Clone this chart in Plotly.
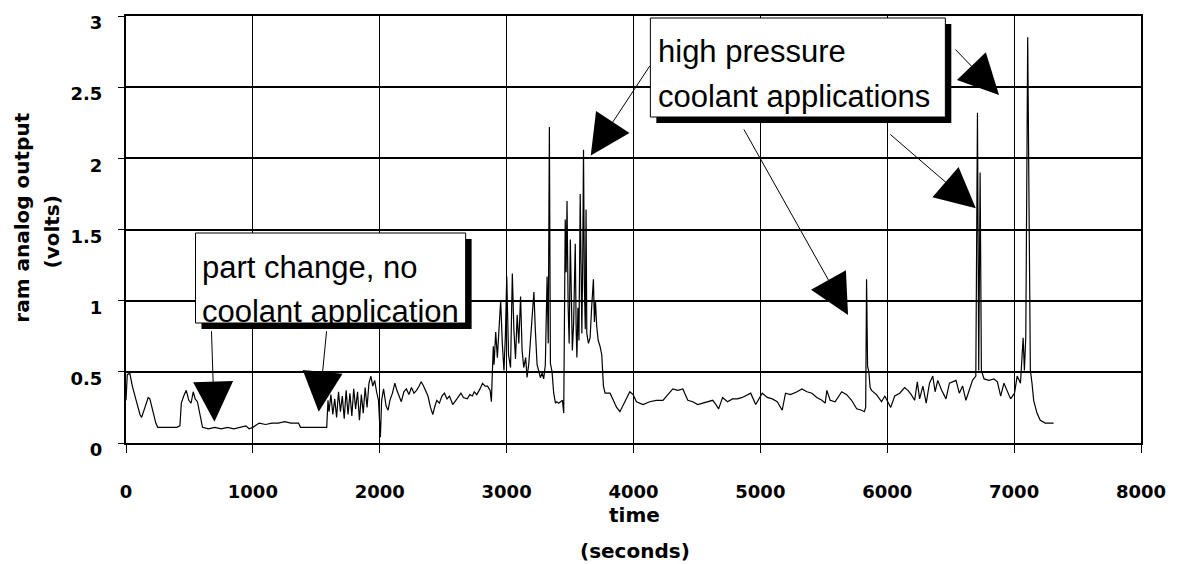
import plotly.graph_objects as go

# ---------------- data ----------------
time_s = [
    0, 10, 30, 50, 80, 110, 123, 150, 175, 188, 210, 235, 250, 300, 350, 400, 425,
    436, 455, 475, 495, 513, 530, 545, 563, 580, 603, 650, 700, 750, 800, 850, 900,
    945, 970, 1000, 1050, 1100, 1150, 1200, 1250, 1300, 1360, 1375, 1450, 1520, 1582,
    1592, 1600, 1615, 1630, 1645, 1660, 1675, 1690, 1705, 1720, 1735, 1750, 1765, 1780,
    1795, 1810, 1825, 1840, 1855, 1870, 1885, 1900, 1915, 1930, 1945, 1960, 1975, 1990,
    2005, 2015, 2030, 2050, 2066, 2080, 2100, 2119, 2135, 2150, 2170, 2190, 2210, 2230,
    2250, 2270, 2290, 2310, 2327, 2345, 2360, 2380, 2400, 2418, 2435, 2450, 2470, 2490,
    2510, 2530, 2550, 2575, 2600, 2620, 2640, 2660, 2690, 2710, 2730, 2745, 2765, 2790,
    2810, 2830, 2850, 2870, 2880,
    2888, 2895, 2901, 2914, 2927, 2940, 2953, 2966, 2979, 2990, 3001, 3015, 3031, 3045,
    3057, 3070, 3083, 3096, 3110, 3122, 3135, 3150, 3161, 3175, 3187, 3200, 3215, 3226,
    3240, 3255, 3266, 3280, 3292, 3305, 3319, 3328, 3337, 3345, 3358, 3371, 3385, 3395,
    3410, 3425, 3440, 3450, 3456, 3462, 3469, 3476, 3485, 3493, 3502, 3510, 3518, 3528,
    3535, 3541, 3548, 3554, 3562, 3570, 3580, 3587, 3593, 3600, 3606, 3613, 3620, 3626,
    3632, 3645, 3658, 3670, 3684, 3692, 3700, 3710, 3722, 3736, 3750, 3763, 3776, 3789,
    3815, 3841, 3867, 3893, 3932, 3971, 3997, 4023, 4075, 4128, 4180, 4232, 4271, 4310,
    4349, 4389, 4428, 4467, 4506, 4545, 4584, 4624, 4650, 4671, 4702, 4741, 4780, 4819,
    4858, 4898, 4924, 4963, 4989, 5015, 5054, 5094, 5133, 5172, 5198, 5237, 5289, 5328,
    5367, 5406, 5445, 5485, 5511, 5524, 5550, 5589, 5641, 5680, 5719, 5759, 5798, 5819,
    5830, 5837, 5845, 5855, 5865,
    5876, 5915, 5955, 5981, 6007, 6027, 6059, 6098, 6137, 6163, 6189, 6216, 6237, 6255,
    6281, 6307, 6333, 6359, 6377, 6398, 6429, 6463, 6490, 6516, 6542, 6568, 6594, 6620,
    6646, 6672, 6698, 6711, 6721, 6732, 6742, 6763, 6802, 6841, 6868, 6894, 6920, 6946,
    6972, 7003, 7024, 7050, 7071, 7081, 7092, 7107, 7118, 7128, 7141, 7154, 7180, 7206,
    7245, 7311,
]
ram_volts = [
    0.30, 0.48, 0.49, 0.40, 0.30, 0.20, 0.18, 0.26, 0.32, 0.31, 0.22, 0.14, 0.11, 0.11, 0.11, 0.11, 0.12,
    0.28, 0.33, 0.37, 0.30, 0.28, 0.36, 0.31, 0.29, 0.20, 0.11, 0.10, 0.11, 0.10, 0.11, 0.10, 0.11,
    0.12, 0.10, 0.11, 0.14, 0.13, 0.14, 0.14, 0.15, 0.14, 0.14, 0.11, 0.11, 0.11, 0.11,
    0.30, 0.22, 0.34, 0.20, 0.31, 0.18, 0.36, 0.22, 0.33, 0.17, 0.37, 0.20, 0.35, 0.19,
    0.38, 0.24, 0.36, 0.16, 0.34, 0.21, 0.39, 0.25, 0.42, 0.47, 0.40, 0.44, 0.36, 0.30,
    0.04, 0.30, 0.38, 0.26, 0.23, 0.30, 0.35, 0.42, 0.37, 0.33, 0.29, 0.36, 0.38, 0.34,
    0.39, 0.35, 0.37, 0.40, 0.43, 0.40, 0.37, 0.33, 0.25, 0.20, 0.26, 0.30, 0.28, 0.33,
    0.35, 0.31, 0.33, 0.27, 0.30, 0.33, 0.35, 0.32, 0.31, 0.34, 0.33, 0.36, 0.34, 0.38,
    0.42, 0.40, 0.40, 0.37, 0.29,
    0.51, 0.68, 0.55, 0.78, 0.60, 0.82, 1.00, 0.70, 0.51, 0.75, 1.17, 0.62, 0.53, 1.19,
    0.80, 0.59, 0.90, 0.70, 1.03, 0.65, 0.53, 0.60, 0.46, 0.56, 0.72, 0.88, 1.06, 0.80,
    0.55, 0.50, 0.46, 0.49, 0.45, 0.55, 1.17, 0.70, 2.22, 0.56, 0.50, 0.35, 0.28, 0.29,
    0.28, 0.29, 0.30, 0.21, 0.90, 1.57, 1.20, 1.70, 0.95, 0.70, 1.43, 0.85, 0.65, 0.84,
    1.10, 1.40, 0.80, 0.60, 0.95, 0.72, 1.75, 0.90, 0.77, 1.30, 2.06, 1.10, 0.80, 1.64,
    0.77, 0.70, 0.74, 0.95, 1.15, 0.85, 1.00, 0.82, 0.72, 0.68, 0.62, 0.40, 0.35, 0.35,
    0.35, 0.30, 0.25, 0.22, 0.29, 0.36, 0.34, 0.29, 0.27, 0.29, 0.30, 0.30, 0.34, 0.38,
    0.37, 0.38, 0.30, 0.29, 0.27, 0.28, 0.29, 0.30, 0.27, 0.24, 0.32, 0.29, 0.31, 0.31,
    0.32, 0.34, 0.35, 0.27, 0.31, 0.35, 0.32, 0.31, 0.29, 0.23, 0.35, 0.34, 0.36, 0.38,
    0.36, 0.35, 0.32, 0.30, 0.28, 0.37, 0.30, 0.29, 0.36, 0.34, 0.30, 0.24, 0.23, 0.22,
    0.25, 1.15, 0.54, 0.50, 0.39,
    0.37, 0.34, 0.29, 0.33, 0.29, 0.25, 0.33, 0.35, 0.39, 0.37, 0.34, 0.30, 0.43, 0.31,
    0.40, 0.28, 0.42, 0.47, 0.36, 0.44, 0.37, 0.31, 0.42, 0.43, 0.44, 0.35, 0.40, 0.30,
    0.37, 0.44, 0.47, 2.32, 0.51, 1.90, 0.51, 0.45, 0.44, 0.45, 0.43, 0.33, 0.42, 0.37,
    0.31, 0.35, 0.47, 0.42, 0.74, 0.51, 0.75, 2.85, 1.73, 0.51, 0.42, 0.30, 0.21, 0.16,
    0.14, 0.14,
]

x_ticks = [0, 1000, 2000, 3000, 4000, 5000, 6000, 7000, 8000]
y_ticks = [0, 0.5, 1, 1.5, 2, 2.5, 3]
y_tick_text = ["0", "0.5", "1", "1.5", "2", "2.5", "3"]

box1_lines = ["part change, no", "coolant application"]
box2_lines = ["high pressure", "coolant applications"]

# ---------------- layout geometry ----------------
W, H = 1178, 564
ML, MR, MT, MB = 126, 30, 16, 121
PW, PH = W - ML - MR, H - MT - MB
XMAX, YMAX = 8000, 3


def dx(px):
    return (px - ML) / PW * XMAX


def dy(py):
    return (H - MB - py) / PH * YMAX


def paper_x(px):
    return (px - ML) / PW


def paper_y(py):
    return (H - MB - py) / PH


BOLD = "DejaVu Sans"
TXT = "Liberation Sans, Arial, sans-serif"

fig = go.Figure()
fig.add_trace(go.Scatter(
    x=time_s, y=ram_volts, mode="lines",
    line=dict(color="black", width=1.2), hoverinfo="skip", showlegend=False,
))

shapes = []
annotations = []


def add_box(x0, y0, x1, y1, off=6):
    shapes.append(dict(type="rect", xref="x", yref="y",
                       x0=dx(x0 + off), x1=dx(x1 + off), y0=dy(y0 + off), y1=dy(y1 + off),
                       fillcolor="black", line=dict(width=0), layer="above"))
    shapes.append(dict(type="rect", xref="x", yref="y",
                       x0=dx(x0), x1=dx(x1), y0=dy(y0), y1=dy(y1),
                       fillcolor="white", line=dict(color="black", width=1), layer="above"))


add_box(196, 233, 468, 323)
add_box(654, 18, 951, 117)

for text, (px, py) in zip(box1_lines, [(201, 267), (201, 311)]):
    annotations.append(dict(text=text, x=dx(px), y=dy(py), xref="x", yref="y",
                            xanchor="left", yanchor="middle", showarrow=False,
                            font=dict(family=TXT, size=31, color="black")))
for text, (px, py) in zip(box2_lines, [(660, 51), (660, 96)]):
    annotations.append(dict(text=text, x=dx(px), y=dy(py), xref="x", yref="y",
                            xanchor="left", yanchor="middle", showarrow=False,
                            font=dict(family=TXT, size=31, color="black")))

# arrows: tip in data units, tail offset in pixels
arrows = [
    (697, 0.15, -3, -92),
    (1519, 0.22, 8, -82),
    (3663, 2.02, 60, -91),
    (5691, 0.90, -105, -187),
    (6698, 1.65, -87, -75),
    (6881, 2.445, -45, -47),
]
for tx, ty, ax, ay in arrows:
    annotations.append(dict(text="", x=tx, y=ty, xref="x", yref="y", ax=ax, ay=ay,
                            showarrow=True, arrowhead=2, arrowsize=8, arrowwidth=1,
                            arrowcolor="black", standoff=0))

# axis titles (paper coordinates, outside the plot area)
title_font = dict(family=BOLD, size=20, color="black", weight="bold")
annotations.append(dict(text="ram analog output", x=paper_x(21), y=paper_y(218),
                        xref="paper", yref="paper", textangle=-90, showarrow=False,
                        xanchor="center", yanchor="middle", font=title_font))
annotations.append(dict(text="(volts)", x=paper_x(51), y=paper_y(232),
                        xref="paper", yref="paper", textangle=-90, showarrow=False,
                        xanchor="center", yanchor="middle", font=title_font))
annotations.append(dict(text="time", x=paper_x(638), y=paper_y(515),
                        xref="paper", yref="paper", showarrow=False,
                        xanchor="center", yanchor="middle", font=title_font))
annotations.append(dict(text="(seconds)", x=paper_x(639), y=paper_y(551),
                        xref="paper", yref="paper", showarrow=False,
                        xanchor="center", yanchor="middle", font=title_font))

fig.update_layout(
    width=W, height=H,
    margin=dict(l=ML, r=MR, t=MT, b=MB, pad=0),
    paper_bgcolor="white", plot_bgcolor="white",
    shapes=shapes, annotations=annotations,
    showlegend=False,
)
fig.update_xaxes(
    range=[0, XMAX], tickvals=x_ticks, ticktext=[str(v) for v in x_ticks],
    showgrid=True, gridcolor="black", gridwidth=1, zeroline=False,
    showline=True, linecolor="black", linewidth=2, mirror=True,
    ticks="outside", ticklen=8, tickcolor="black", tickwidth=1,
    ticklabelstandoff=23,
    tickfont=dict(family=BOLD, size=18, color="black", weight="bold"),
)
fig.update_yaxes(
    range=[0, YMAX], tickvals=y_ticks, ticktext=y_tick_text,
    showgrid=True, gridcolor="black", gridwidth=1.5, zeroline=False,
    showline=True, linecolor="black", linewidth=2, mirror=True,
    ticks="outside", ticklen=6, tickcolor="black", tickwidth=1,
    ticklabelstandoff=12, ticklabelshift=7, ticklabeloverflow="allow",
    tickfont=dict(family=BOLD, size=18, color="black", weight="bold"),
)

fig.write_html("out.html")
